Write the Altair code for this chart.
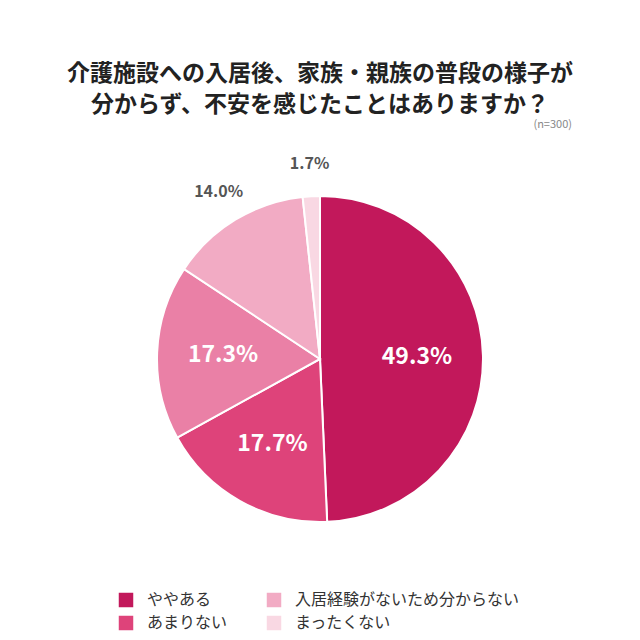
import altair as alt
import pandas as pd

# slices, clockwise from 12 o'clock
answers = ["ややある", "あまりない", "どちらともいえない", "入居経験がないため分からない", "まったくない"]
shares = [49.3, 17.7, 17.3, 14.0, 1.7]
colors = ["#C2185B", "#DE437A", "#EA80A6", "#F2ABC4", "#F9D8E3"]
# legend fills column by column: col 1 = ややある / あまりない
legend_items = ["ややある", "あまりない", "入居経験がないため分からない", "まったくない"]

title_lines = ["介護施設への入居後、家族・親族の普段の様子が", "分からず、不安を感じたことはありますか？"]
note = "(n=300)"

df = pd.DataFrame({"answer": answers, "share": shares, "idx": list(range(len(answers)))})
df["label"] = df["share"].map(lambda v: f"{v:.1f}%")

FONT = "Noto Sans CJK JP"
cx, cy = 312, 221
theta_scale = alt.Scale(domain=[0, 100])

pie = alt.Chart(df).mark_arc(radius=163, stroke="white", strokeWidth=2).encode(
    theta=alt.Theta("share:Q", stack=True, scale=theta_scale),
    order=alt.Order("idx:Q"),
    x=alt.value(cx),
    y=alt.value(cy),
    color=alt.Color(
        "answer:N",
        scale=alt.Scale(domain=answers, range=colors),
        legend=alt.Legend(
            title=None,
            values=legend_items,
            orient="none",
            legendX=110,
            legendY=454,
            columns=2,
            columnPadding=38,
            rowPadding=7,
            symbolType="square",
            symbolSize=210,
            symbolStrokeWidth=0,
            labelFont=FONT,
            labelFontSize=16,
            labelColor="#333333",
            labelOffset=13,
            labelLimit=400,
            padding=0,
        ),
    ),
)

labels = alt.Chart(df).transform_window(
    cum="sum(share)", sort=[alt.SortField("idx")]
).transform_calculate(mid="datum.cum - datum.share / 2")

text_enc = dict(
    theta=alt.Theta("mid:Q", stack=None, scale=theta_scale),
    x=alt.value(cx),
    y=alt.value(cy),
    text="label:N",
)

inner = labels.mark_text(
    radius=97, font=FONT, fontSize=23, fontWeight="bold", color="white"
).encode(**text_enc).transform_filter("datum.share >= 15")

outer = labels.mark_text(
    radius=195, font=FONT, fontSize=16, fontWeight="bold", color="#555555"
).encode(**text_enc).transform_filter("datum.share < 15")

n_text = alt.Chart(pd.DataFrame({"t": [note]})).mark_text(
    font=FONT, fontSize=11, color="#888888", align="right"
).encode(text="t:N", x=alt.value(564), y=alt.value(-13))

chart = alt.layer(pie, inner, outer, n_text).properties(
    width=624,
    height=494,
    autosize="none",
    padding={"left": 0, "top": 130, "right": 0, "bottom": 0},
    title=alt.Title(
        title_lines,
        font=FONT,
        fontSize=23,
        fontWeight="bold",
        color="#222222",
        anchor="middle",
        lineHeight=31,
        offset=2,
    ),
).configure_view(stroke=None)

chart.save("out.html", embed_options={"renderer": "svg", "actions": False})
